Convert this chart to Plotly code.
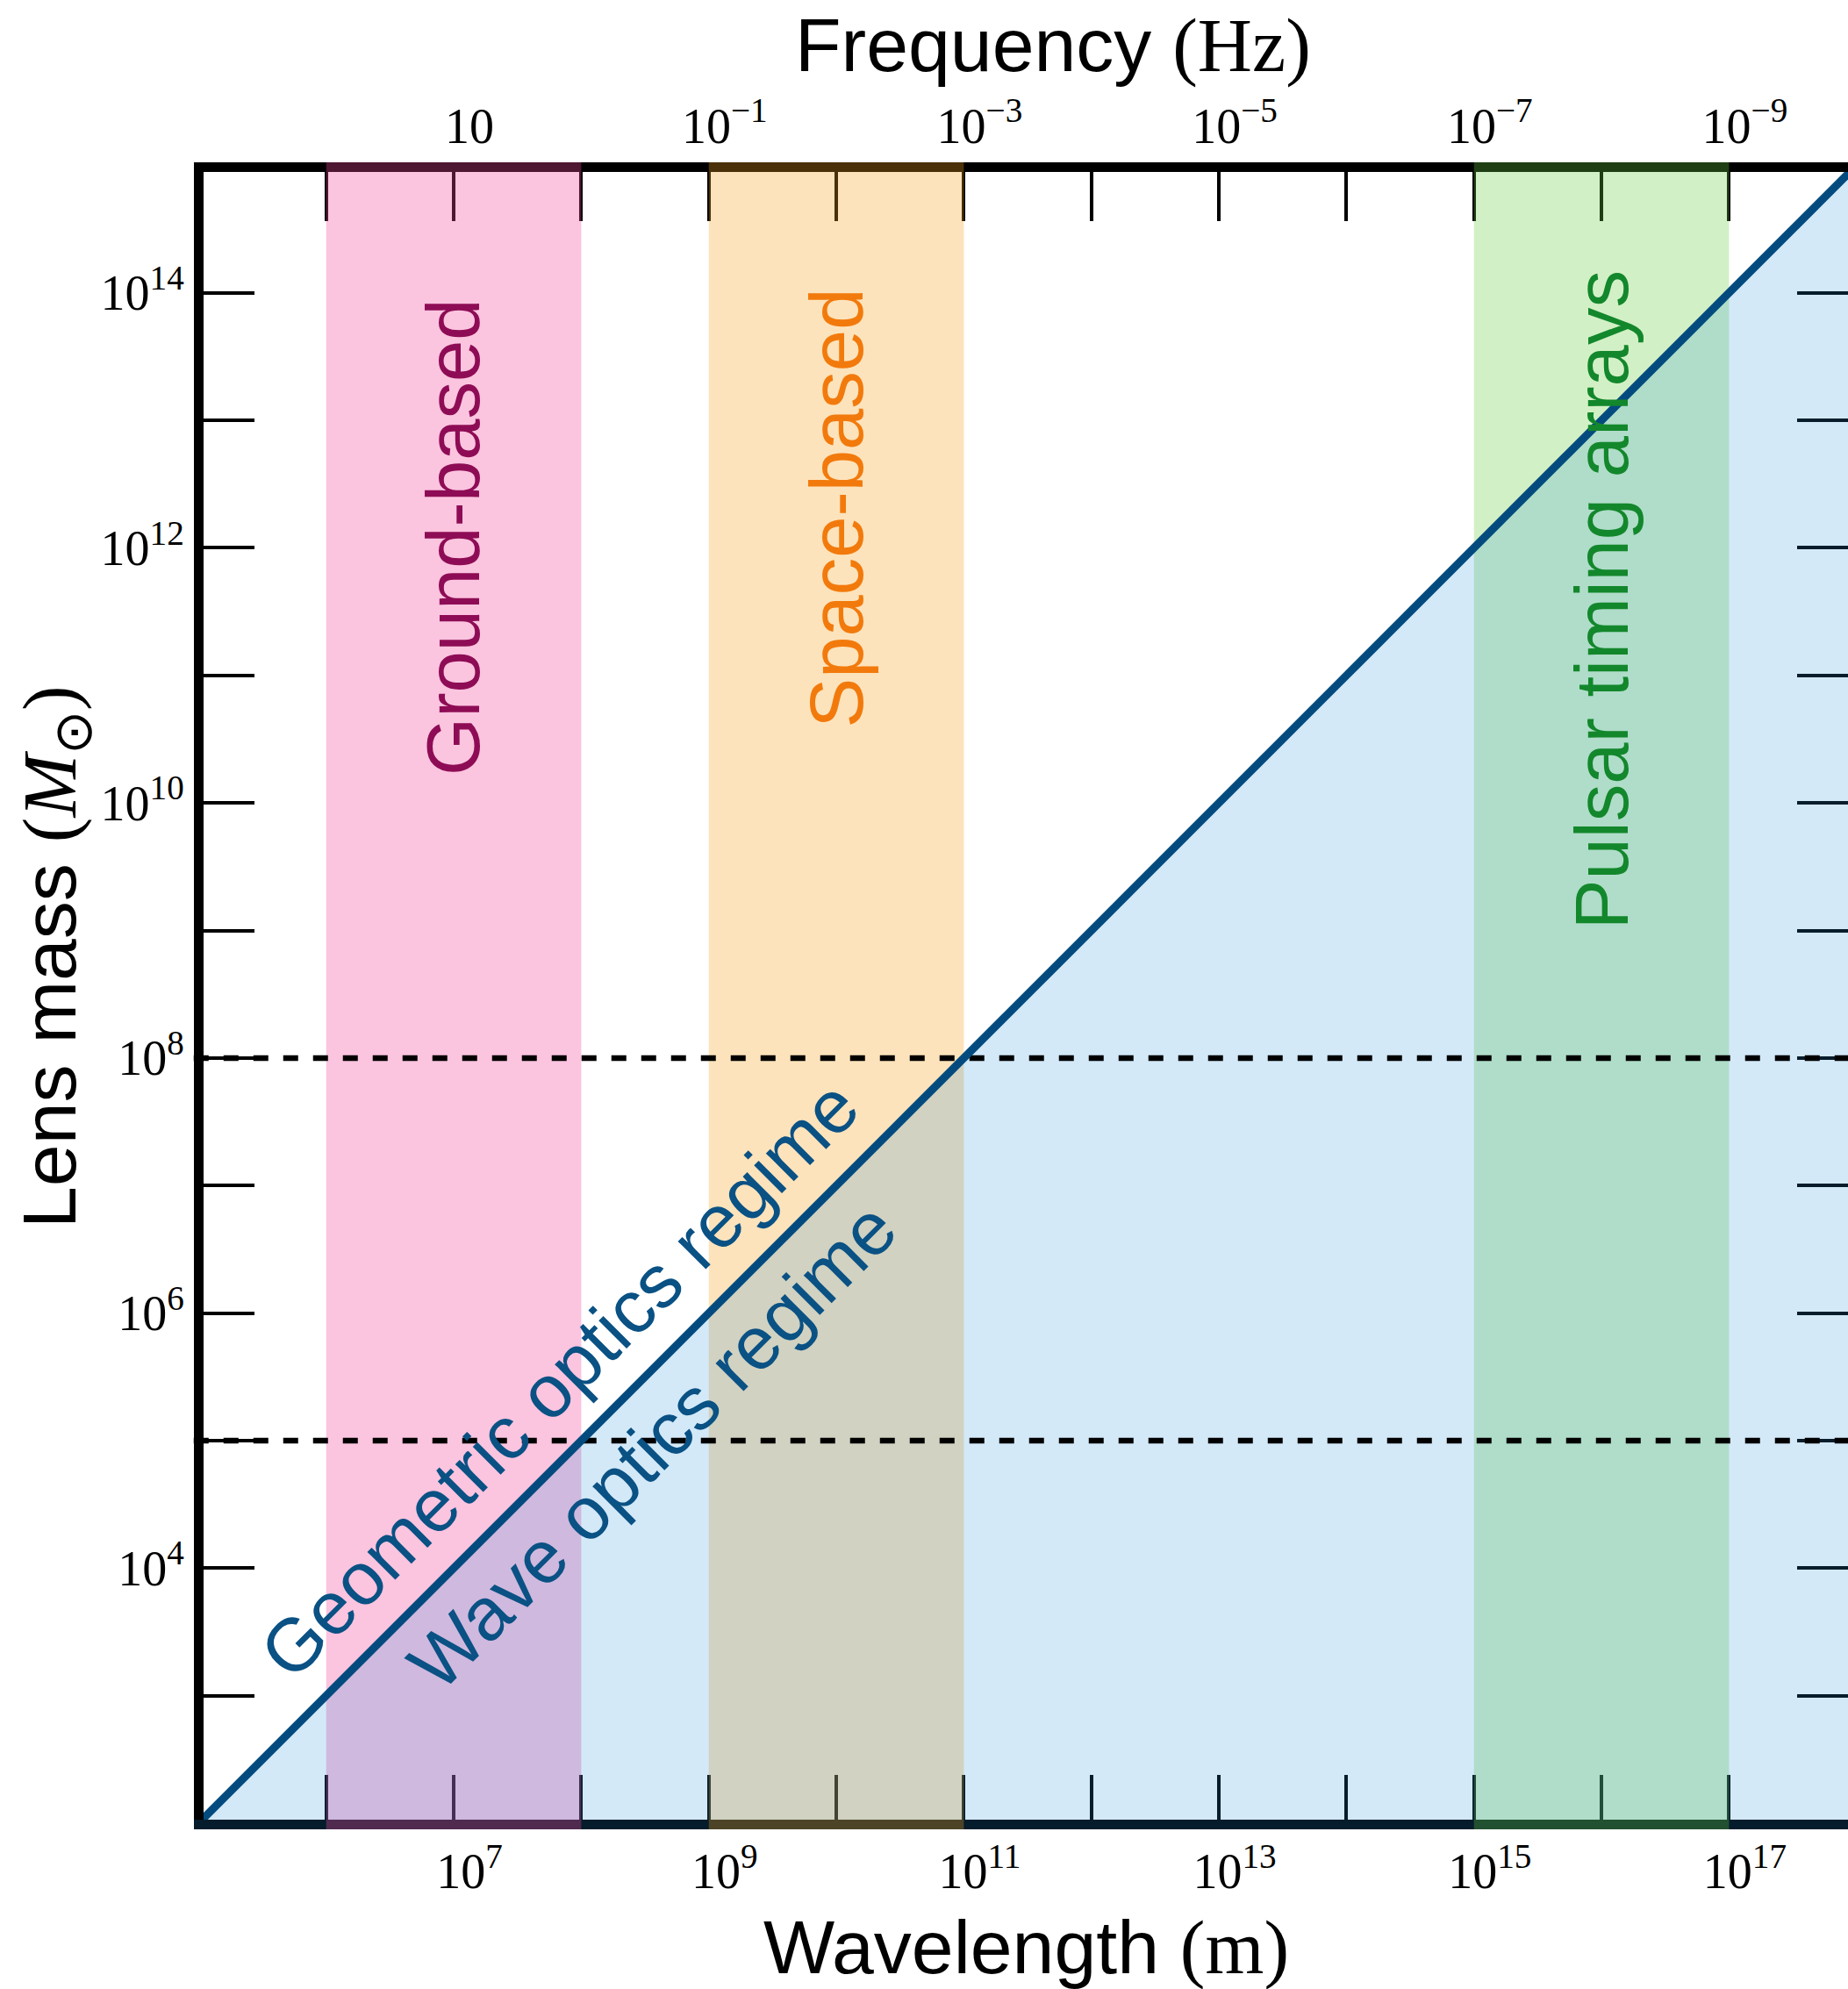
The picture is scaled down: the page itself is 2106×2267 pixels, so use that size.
import numpy as np
import plotly.graph_objects as go

# ---------------------------------------------------------------- data
# Wavelength decades (log10 m) that carry tick marks, and those that are labelled
wavelength_tick_exp = list(range(6, 18))
wavelength_label_exp = [7, 9, 11, 13, 15, 17]
# Frequency (log10 Hz) written above the labelled wavelength ticks
frequency_label_exp = [1, -1, -3, -5, -7, -9]
# Lens-mass decades (log10 Msun) with tick marks, and those that are labelled
mass_tick_exp = list(range(3, 15))
mass_label_exp = [4, 6, 8, 10, 12, 14]

# Detector bands in wavelength (m)
band_names = ["Ground-based", "Space-based", "Pulsar timing arrays"]
band_low = [1e6, 1e9, 1e15]
band_high = [1e8, 1e11, 1e17]

# Wave / geometric optics boundary (M grows linearly with wavelength)
boundary_wavelength = [1e5, 1e18]
boundary_mass = [1e2, 1e15]

# Reference lens masses drawn as dashed horizontal lines
reference_mass = [1e8, 1e5]

# ---------------------------------------------------------------- layout constants
W, H = 2106, 2267
M_L, M_R, M_T, M_B = 232, 0, 196, 193
PW, PH = W - M_L - M_R, H - M_T - M_B
x_range = [5.0385, 17.933]      # log10 wavelength shown
y_range = [2.0275, 14.948]      # log10 mass shown
SPINE = 11

band_fill = ["rgb(244,72,156)", "rgb(250,163,30)", "rgb(105,205,62)"]
band_alpha = [0.32, 0.30, 0.30]
band_text = ["#8e0c55", "#f27a0c", "#13872c"]
band_label_y = [12.08, 12.31, 11.59]   # log10 mass at label centre

LINE_BLUE = "#034b7e"
TEXT_BLUE = "#0a5184"
WAVE_FILL = "rgb(35,145,220)"

SANS = "Liberation Sans"
SERIF = "Liberation Serif"


def px_to_paper_x(px):
    return (px - M_L) / PW


def px_to_paper_y(py):
    return (H - M_B - py) / PH


def sci(e):
    if e == 1:
        return "10"
    s = str(e).replace("-", "\u2212")
    return f"10<sup>{s}</sup>"


fig = go.Figure()

# empty traces so every axis pair is instantiated
fig.add_trace(go.Scatter(x=[], y=[], xaxis="x", yaxis="y", showlegend=False, hoverinfo="skip"))
fig.add_trace(go.Scatter(x=[], y=[], xaxis="x2", yaxis="y", showlegend=False, hoverinfo="skip"))
fig.add_trace(go.Scatter(x=[], y=[], xaxis="x", yaxis="y2", showlegend=False, hoverinfo="skip"))

shapes = []
pad = SPINE / PH
# detector bands, drawn over the frame so the spines are tinted
for lo, hi, c, a in zip(band_low, band_high, band_fill, band_alpha):
    shapes.append(dict(type="rect", xref="x", yref="paper", x0=lo, x1=hi,
                       y0=-pad, y1=1 + pad, fillcolor=c, opacity=a,
                       line=dict(width=0), layer="above"))

# wave-optics region below the boundary
bx, by = boundary_wavelength, boundary_mass
tri = (f"M{bx[0]:.0f},{by[0]:.0f} L{bx[1]:.0f},{by[1]:.0f} "
       f"L{bx[1]:.0f},{by[0]:.0f} Z")
shapes.append(dict(type="path", xref="x", yref="y", path=tri,
                   fillcolor=WAVE_FILL, opacity=0.2, line=dict(width=0), layer="above"))

# dashed reference masses
for m in reference_mass:
    shapes.append(dict(type="line", xref="paper", yref="y", x0=-0.006, x1=1,
                       y0=m, y1=m, line=dict(color="black", width=6.5, dash="17px,17px"),
                       layer="above"))

# boundary line
shapes.append(dict(type="line", xref="x", yref="y", x0=bx[0], y0=by[0], x1=bx[1], y1=by[1],
                   line=dict(color=LINE_BLUE, width=9), layer="above"))

annotations = []
# band labels
for name, lo, hi, col, ly in zip(band_names, band_low, band_high, band_text, band_label_y):
    annotations.append(dict(x=0.5 * (np.log10(lo) + np.log10(hi)), y=ly, xref="x", yref="y",
                            text=name, textangle=-90, showarrow=False,
                            xanchor="center", yanchor="middle",
                            font=dict(family=SANS, size=85, color=col)))

# regime labels along the boundary
annotations.append(dict(x=7.832, y=5.482, xref="x", yref="y", text="Geometric optics regime",
                        textangle=-45, showarrow=False, xanchor="center", yanchor="middle",
                        font=dict(family=SANS, size=85, color=TEXT_BLUE)))
annotations.append(dict(x=8.561, y=4.959, xref="x", yref="y", text="Wave optics regime",
                        textangle=-45, showarrow=False, xanchor="center", yanchor="middle",
                        font=dict(family=SANS, size=85, color=TEXT_BLUE)))

# axis titles
annotations.append(dict(x=px_to_paper_x(1200), y=px_to_paper_y(52), xref="paper", yref="paper",
                        xanchor="center", yanchor="middle",
                        text=f"Frequency <span style=\"font-family:{SERIF}\">(Hz)</span>",
                        showarrow=False, font=dict(family=SANS, size=86, color="black")))
annotations.append(dict(x=px_to_paper_x(1169), y=px_to_paper_y(2219), xref="paper", yref="paper",
                        xanchor="center", yanchor="middle",
                        text=f"Wavelength <span style=\"font-family:{SERIF}\">(m)</span>",
                        showarrow=False, font=dict(family=SANS, size=86, color="black")))
annotations.append(dict(x=px_to_paper_x(62), y=px_to_paper_y(1091), xref="paper", yref="paper",
                        xanchor="center", yanchor="middle",
                        text=(f"Lens mass <span style=\"font-family:{SERIF}\">(<i>M</i>"
                              f"<sub>\u2299</sub>)</span>"),
                        textangle=-90, showarrow=False,
                        font=dict(family=SANS, size=86, color="black")))

# labelled decades are major ticks, the others minor ticks of the same look
x_major = [10.0 ** e for e in wavelength_label_exp]
x_minor = [10.0 ** e for e in wavelength_tick_exp if e not in wavelength_label_exp]
x_text = [sci(e) for e in wavelength_label_exp]
top_text = [sci(e) for e in frequency_label_exp]
y_major = [10.0 ** e for e in mass_label_exp]
y_minor = [10.0 ** e for e in mass_tick_exp if e not in mass_label_exp]
y_text = [sci(e) for e in mass_label_exp]
y_all = [10.0 ** e for e in mass_tick_exp]

tickfont = dict(family=SERIF, size=56, color="black")
common = dict(type="log", showgrid=False, zeroline=False, ticks="inside", tickwidth=4,
              tickcolor="black", tickmode="array")


def minor(vals, length):
    return dict(tickmode="array", tickvals=vals, ticks="inside", ticklen=length,
                tickwidth=4, tickcolor="black", showgrid=False)


fig.update_layout(
    width=W, height=H,
    margin=dict(l=M_L, r=M_R, t=M_T, b=M_B, pad=0),
    paper_bgcolor="white", plot_bgcolor="white",
    showlegend=False,
    xaxis=dict(**common, range=x_range, side="bottom", anchor="y",
               showline=True, linewidth=SPINE, linecolor="rgb(4,28,44)",
               ticklen=51, tickvals=x_major, ticktext=x_text, tickfont=tickfont,
               ticklabelshift=18, minor=minor(x_minor, 51)),
    xaxis2=dict(**common, range=x_range, side="top", anchor="y", overlaying="x",
                showline=True, linewidth=SPINE, linecolor="black",
                ticklen=56, tickvals=x_major, ticktext=top_text, tickfont=tickfont,
                ticklabelshift=18, minor=minor(x_minor, 56)),
    yaxis=dict(**common, range=y_range, side="left", anchor="x",
               showline=True, linewidth=SPINE, linecolor="black",
               ticklen=58, tickvals=y_major, ticktext=y_text, tickfont=tickfont,
               minor=minor(y_minor, 58)),
    yaxis2=dict(**common, range=y_range, side="right", anchor="x", overlaying="y",
                showline=False, ticklen=58, tickvals=y_all, showticklabels=False),
    shapes=shapes,
    annotations=annotations,
)

fig.write_html("out.html")
